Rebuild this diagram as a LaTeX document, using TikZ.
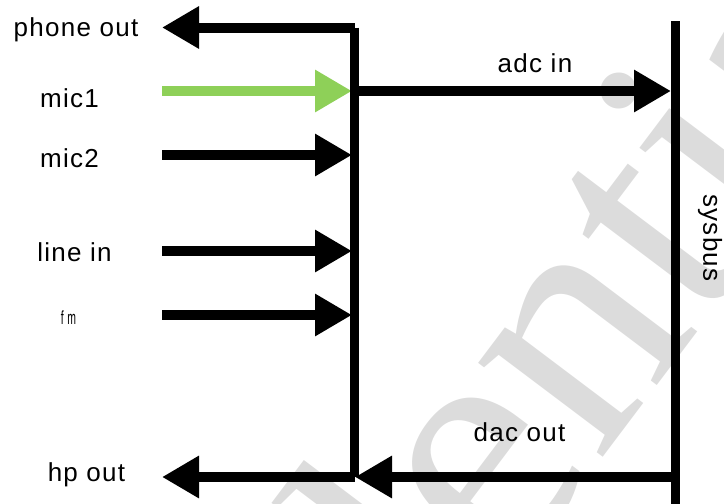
\documentclass[tikz,border=0pt]{standalone}
\usepackage{fontspec}
\setmainfont{Liberation Sans}[LetterSpace=5]
\newfontfamily\wmfont{Liberation Serif}
\usetikzlibrary{arrows.meta}
\definecolor{wmgray}{RGB}{220,220,220}
\definecolor{micgreen}{RGB}{142,208,88}
\tikzset{
  lbl/.style={anchor=base, inner sep=0pt, font=\fontsize{26}{30}\selectfont},
  bus/.style={line width=9.5pt},
  arr/.style={line width=10pt, -{Triangle[length=37pt,width=40pt]}},
}
\begin{document}
\begin{tikzpicture}[x=1pt,y=-1pt]
\useasboundingbox (0,0) rectangle (724,504);
\begin{scope}
\clip (0,0) rectangle (724,504);
\node[rotate=53, anchor=base west, inner sep=0pt, text=wmgray,
      font=\wmfont\fontsize{340}{340}\selectfont] (wm) at (507,584)
      {\hbox to 0pt{\hss Confid}ential};
\end{scope}

% coordinates
\coordinate (btop) at (354.5,27.5);
\coordinate (bbot) at (354.5,477);
\coordinate (badc) at (354.5,91);
\coordinate (sbtop) at (675.5,21);
\coordinate (sbbot) at (675.5,504);
\coordinate (sbadc) at (671,91);
\coordinate (sbdac) at (675.5,477);
\coordinate (bdac) at (355,477);
\coordinate (potip) at (162,27.5);
\coordinate (hptip) at (162,477);
\coordinate (m1s) at (162,91);   \coordinate (m1t) at (352,91);
\coordinate (m2s) at (162,155);  \coordinate (m2t) at (352,155);
\coordinate (lis) at (162,251);  \coordinate (lit) at (352,251);
\coordinate (fms) at (162,315);  \coordinate (fmt) at (352,315);

% labels
\node[lbl] (lphone) at (76,36) {phone out};
\node[lbl] (lmic1) at (69.5,107) {mic1};
\node[lbl] (lmic2) at (69.5,167) {mic2};
\node[lbl] (lline) at (74.5,261) {line in};
\node[anchor=base, inner sep=0pt] (lfm) at (68.5,324)
   {\scalebox{0.55}[1]{\fontsize{19}{20}\selectfont f m}};
\node[lbl] (lhp) at (86.5,481) {hp out};
\node[lbl] (ladc) at (535,72) {adc in};
\node[lbl] (ldac) at (519.5,441) {dac out};
\node[inner sep=0pt, rotate=-90, font=\fontsize{26}{30}\selectfont] (lsys) at (710,238) {sysbus};

% connectors
\draw[arr] (btop) -- (potip);
\draw[arr, micgreen] (m1s) -- (m1t);
\draw[arr] (m2s) -- (m2t);
\draw[arr] (lis) -- (lit);
\draw[arr] (fms) -- (fmt);
\draw[arr] (badc) -- (sbadc);
\draw[arr] (bbot) -- (hptip);
\draw[arr] (sbdac) -- (bdac);

% buses
\draw[bus] (btop) -- (bbot);
\draw[bus] (sbtop) -- (sbbot);
\end{tikzpicture}
\end{document}
